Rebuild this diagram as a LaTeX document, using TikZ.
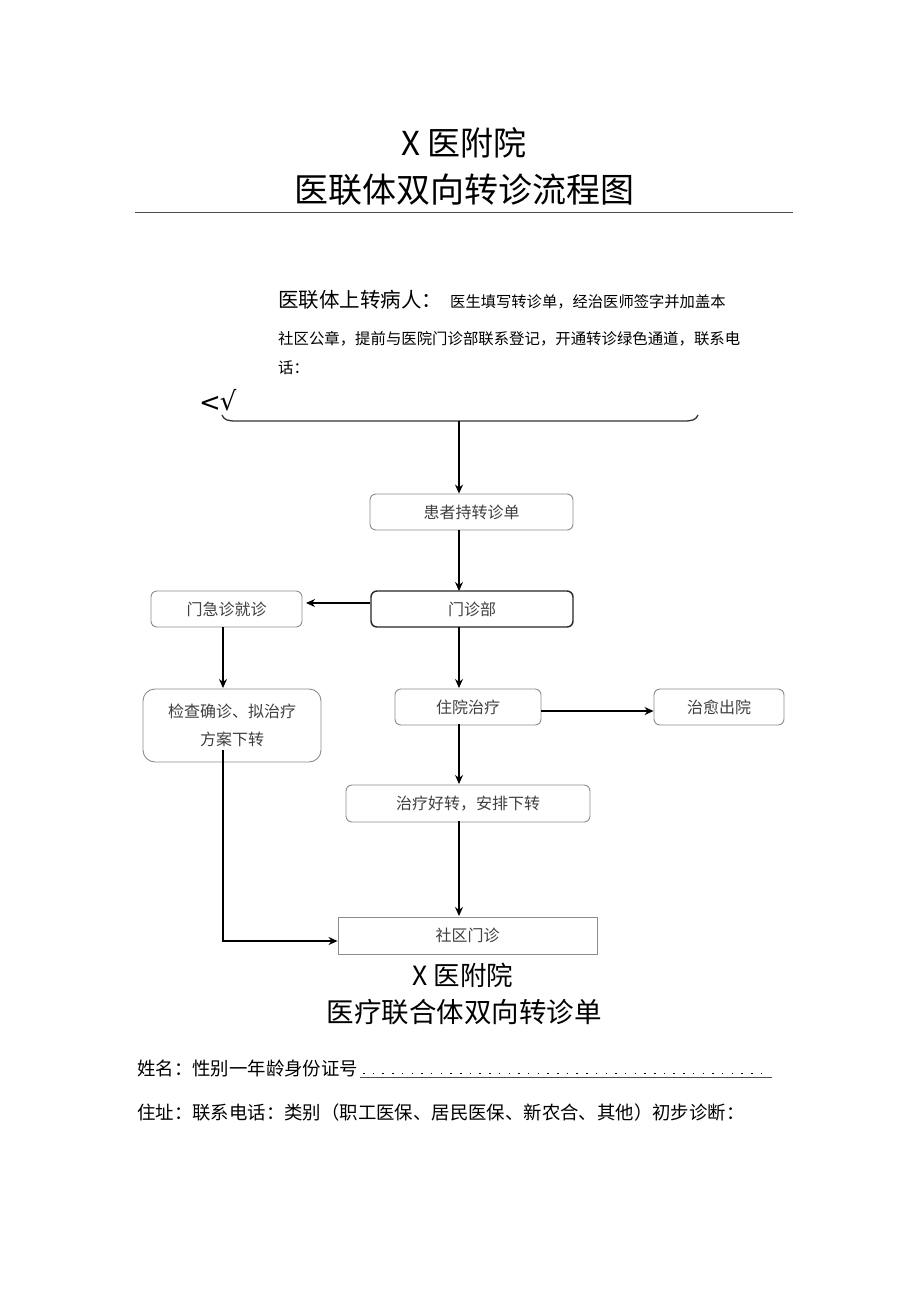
\documentclass[tikz,border=0pt]{standalone}
\usepackage{fontspec}
\setmainfont{Noto Sans CJK SC}
\newfontfamily\cjk{Noto Sans CJK SC}
\newfontfamily\symf{DejaVu Sans}
\usetikzlibrary{arrows.meta}
\begin{document}
\begin{tikzpicture}[x=1pt,y=-1pt,
  fs/.style={font=\fontsize{#1}{#1}\selectfont},
  boxa/.style={draw=black!45,line width=0.9pt,rounded corners=6pt,text=black!75,font=\fontsize{16}{20}\selectfont,inner sep=0pt},
  conn/.style={line width=1.4pt,-{Stealth[length=9pt,width=8pt]}},
  plain/.style={line width=1.4pt}]
\useasboundingbox (0,0) rectangle (920,1301);
\fill[white] (0,0) rectangle (920,1301);
% titles
\node[fs=33,anchor=center] (t1) at (464,143) {X 医附院};
\node[fs=34,anchor=center] (t2) at (464,190) {医联体双向转诊流程图};
\draw[line width=1pt,black!70] (135,212) -- (793,212);
% paragraph
\node[anchor=base west,inner sep=0pt] (p1) at (278,307) {\fontsize{20.5}{20}\selectfont 医联体上转病人：\hspace{8pt}\fontsize{15.3}{15}\selectfont 医生填写转诊单，经治医师签字并加盖本};
\node[anchor=base west,inner sep=0pt,fs=15.4] (p2) at (278,344) {社区公章，提前与医院门诊部联系登记，开通转诊绿色通道，联系电};
\node[anchor=base west,inner sep=0pt,fs=15.4] (p3) at (278,373) {话：};
\node[anchor=base west,inner sep=0pt,fs=26] (sym) at (199,411) {\symf <\kern-1pt\raisebox{1pt}{√}};
% brace line
\coordinate (bl) at (222,415);
\coordinate (br) at (698,415);
\coordinate (bm) at (459,421);
\draw[line width=1.3pt,black!80] (bl) .. controls (224,420) and (228,421) .. (236,421) -- (684,421) .. controls (692,421) and (696,420) .. (br);
% boxes
\node[boxa,minimum width=203pt,minimum height=36pt] (b1) at (471.5,512) {患者持转诊单};
\node[boxa,draw=black!85,line width=1.4pt,minimum width=202pt,minimum height=36pt] (b2) at (472,609) {门诊部};
\node[boxa,minimum width=151pt,minimum height=36pt] (b3) at (226.5,609) {门急诊就诊};
\node[boxa,rounded corners=12pt,minimum width=178pt,minimum height=73pt,align=center,font=\fontsize{16}{28}\selectfont] (b4) at (232,725.5) {检查确诊、拟治疗\\方案下转};
\node[boxa,minimum width=146pt,minimum height=36pt] (b5) at (468,707) {住院治疗};
\node[boxa,minimum width=130pt,minimum height=36pt] (b6) at (719,707) {治愈出院};
\node[boxa,minimum width=244pt,minimum height=37pt] (b7) at (468,803.5) {治疗好转，安排下转};
\node[boxa,rounded corners=0pt,minimum width=259pt,minimum height=37pt] (b8) at (467.5,935.5) {社区门诊};
% connectors
\draw[conn] (bm) -- (bm |- b1.north);
\draw[conn] (459,530) -- (459,591);
\draw[conn] (b2.west |- 0,603) -- (306,603);
\draw[conn] (223,627) -- (223,688);
\draw[conn] (459,627) -- (459,688);
\draw[conn] (b5.east |- 0,711) -- (b6.west |- 0,711);
\draw[conn] (459,724) -- (459,784);
\draw[conn] (459,821) -- (459,916);
\coordinate (c4) at (223,750);
\coordinate (c5) at (223,941);
\draw[conn] (c4) -- (c5) -- (b8.west |- c5);
% second titles
\node[fs=26.5,anchor=center] (t3) at (463,975) {X 医附院};
\node[fs=27.5,anchor=center] (t4) at (464,1012) {医疗联合体双向转诊单};
% form lines
\node[anchor=base west,inner sep=0pt,fs=18.4] (f1) at (137,1075) {姓名：性别一年龄身份证号};
\node[anchor=base west,inner sep=0pt,fs=18.4] (f2) at (137,1119) {住址：联系电话：类别（职工医保、居民医保、新农合、其他）初步诊断：};
\coordinate (d1) at (363,1073.5);
\coordinate (d2) at (770,1073.5);
\draw[line width=1.5pt,dash pattern=on 1.5pt off 8.2pt] (d1) -- (d2);
\draw[line width=0.9pt,black!70] (360,1077) -- (772,1077);
\end{tikzpicture}
\end{document}
